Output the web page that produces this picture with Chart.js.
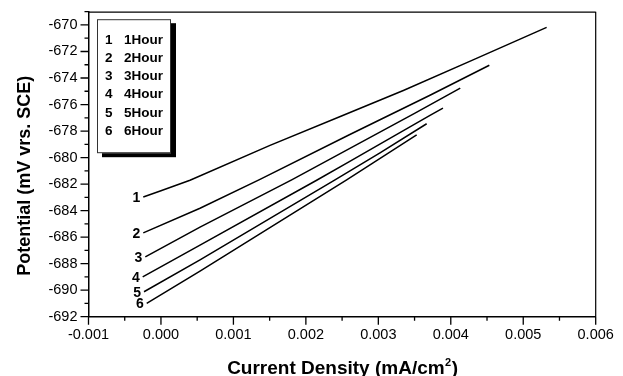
<!DOCTYPE html>
<html>
<head>
<meta charset="utf-8">
<script src="https://cdn.jsdelivr.net/npm/chart.js@4.4.0/dist/chart.umd.min.js"></script>
<style>
html,body{margin:0;padding:0;background:#fff;}
#wrap{width:623px;height:376px;position:relative;}
</style>
</head>
<body>
<div id="wrap"><canvas id="c" width="623" height="376"></canvas></div>
<script>
const FONT = "Arial, 'Liberation Sans', sans-serif";

// Immersion times and the tags written next to each curve
const hourNames = ['1Hour', '2Hour', '3Hour', '4Hour', '5Hour', '6Hour'];
const curveTags = ['1', '2', '3', '4', '5', '6'];

// Current density (mA/cm2) and potential (mV vs SCE) for each immersion time
const current1   = [-0.000244, 0.000000, 0.000401, 0.001505, 0.002500, 0.003345, 0.004300, 0.005323];
const potential1 = [-682.97, -682.50, -681.71, -679.08, -676.85, -674.94, -672.65, -670.18];

const current2   = [-0.000244, 0.000539, 0.001367, 0.002600, 0.003713, 0.004532];
const potential2 = [-685.68, -683.82, -681.64, -678.28, -675.30, -673.04];

const current3   = [-0.000216, 0.000539, 0.001804, 0.003500, 0.004131];
const potential3 = [-687.49, -685.25, -681.68, -676.67, -674.77];

const current4   = [-0.000252, 0.000539, 0.002149, 0.002600, 0.003713, 0.003892];
const potential4 = [-688.99, -686.60, -681.71, -680.30, -676.82, -676.27];

const current5   = [-0.000234, 0.000539, 0.002402, 0.003023, 0.003667];
const potential5 = [-690.12, -687.72, -681.68, -679.64, -677.45];

const current6   = [-0.000197, 0.000539, 0.002563, 0.003529];
const potential6 = [-690.99, -688.56, -681.68, -678.28];

// Axis ranges and tick steps
const xMin = -0.001, xMax = 0.006, xStep = 0.0005;
const yMin = -692, yMax = -669, yStep = 1;

const currents = [current1, current2, current3, current4, current5, current6];
const potentials = [potential1, potential2, potential3, potential4, potential5, potential6];

const datasets = currents.map((xs, i) => ({
  label: hourNames[i],
  data: xs.map((x, k) => ({ x: x, y: potentials[i][k] })),
  showLine: true,
  borderColor: '#000',
  borderWidth: 1.5,
  pointRadius: 0,
  fill: false,
  tension: 0
}));

function xLabel(v) {
  const k = Math.round(v / xStep);
  return k % 2 === 0 ? (k * xStep).toFixed(3) : '';
}
function yLabel(v) {
  const r = Math.round(v);
  return (r % 2 === 0 && r <= -670) ? String(r) : '';
}

// Frame on top/right plus major and minor tick marks
const framePlugin = {
  id: 'frame',
  afterDraw(chart) {
    const { ctx, chartArea: a, scales } = chart;
    ctx.save();
    ctx.strokeStyle = '#000';
    ctx.lineWidth = 1.2;
    ctx.beginPath();
    ctx.moveTo(a.left, a.top + 0.5);
    ctx.lineTo(a.right, a.top + 0.5);
    ctx.moveTo(a.right, a.top);
    ctx.lineTo(a.right, a.bottom);
    ctx.stroke();

    ctx.lineWidth = 1.3;
    ctx.beginPath();
    scales.x.ticks.forEach(t => {
      const px = scales.x.getPixelForValue(t.value);
      const len = xLabel(t.value) !== '' ? 8 : 4;
      ctx.moveTo(px, a.bottom);
      ctx.lineTo(px, a.bottom + len);
    });
    scales.y.ticks.forEach(t => {
      const py = scales.y.getPixelForValue(t.value);
      const len = yLabel(t.value) !== '' ? 8 : 4;
      ctx.moveTo(a.left, py);
      ctx.lineTo(a.left - len, py);
    });
    ctx.stroke();
    ctx.restore();
  }
};

// Curve tags at the start of every line
const tagPlugin = {
  id: 'tags',
  afterDatasetsDraw(chart) {
    const { ctx, scales } = chart;
    ctx.save();
    ctx.fillStyle = '#000';
    ctx.font = 'bold 14px ' + FONT;
    ctx.textAlign = 'right';
    ctx.textBaseline = 'middle';
    chart.data.datasets.forEach((ds, i) => {
      const p = ds.data[0];
      const px = scales.x.getPixelForValue(p.x);
      const py = scales.y.getPixelForValue(p.y);
      ctx.fillText(curveTags[i], px - 3, py + 1);
    });
    ctx.restore();
  }
};

// Boxed legend with drop shadow in the upper-left corner
const legendPlugin = {
  id: 'boxLegend',
  afterDraw(chart) {
    const { ctx, chartArea: a } = chart;
    const bx = a.left + 8.5, by = a.top + 7.5, bw = 74, bh = 134;
    ctx.save();
    ctx.fillStyle = '#000';
    ctx.fillRect(bx + 5, by + 4, bw, bh);
    ctx.fillStyle = '#fff';
    ctx.fillRect(bx, by, bw, bh);
    ctx.strokeStyle = '#333';
    ctx.lineWidth = 1;
    ctx.strokeRect(bx + 0.5, by + 0.5, bw - 1, bh - 1);
    ctx.fillStyle = '#000';
    ctx.font = 'bold 13.5px ' + FONT;
    ctx.textBaseline = 'middle';
    ctx.textAlign = 'left';
    hourNames.forEach((name, i) => {
      const ty = by + 21 + i * 18.15;
      ctx.fillText(curveTags[i], bx + 8, ty);
      ctx.fillText(name, bx + 27, ty);
    });
    ctx.restore();
  }
};

// Axis titles
const titlePlugin = {
  id: 'axisTitles',
  afterDraw(chart) {
    const { ctx, chartArea: a } = chart;
    ctx.save();
    ctx.fillStyle = '#000';
    ctx.font = 'bold 18px ' + FONT;
    ctx.textAlign = 'center';
    ctx.textBaseline = 'middle';
    ctx.translate(a.left - 63, a.top + 164);
    ctx.rotate(-Math.PI / 2);
    ctx.fillText('Potential (mV vrs. SCE)', 0, 0);
    ctx.restore();

    ctx.save();
    ctx.fillStyle = '#000';
    ctx.textBaseline = 'alphabetic';
    ctx.textAlign = 'left';
    const main = 'Current Density (mA/cm', sup = '2', tail = ')';
    const big = 'bold 19px ' + FONT, small = 'bold 11px ' + FONT;
    ctx.font = big;
    const w1 = ctx.measureText(main).width, w3 = ctx.measureText(tail).width;
    ctx.font = small;
    const w2 = ctx.measureText(sup).width;
    const cx = (a.left + a.right) / 2;
    const base = a.bottom + 57;
    let x0 = cx - (w1 + w2 + w3) / 2;
    ctx.font = big;
    ctx.fillText(main, x0, base);
    ctx.font = small;
    ctx.fillText(sup, x0 + w1 + 0.5, base - 8);
    ctx.font = big;
    ctx.fillText(tail, x0 + w1 + w2 + 1, base);
    ctx.restore();
  }
};

new Chart(document.getElementById('c'), {
  type: 'scatter',
  data: { datasets: datasets },
  options: {
    responsive: false,
    animation: false,
    devicePixelRatio: 1,
    layout: { padding: { top: 11, right: 27.3, left: 0, bottom: 0 } },
    plugins: { legend: { display: false }, tooltip: { enabled: false } },
    scales: {
      x: {
        type: 'linear',
        min: xMin, max: xMax,
        afterFit: s => { s.height = 59.3; },
        border: { display: true, color: '#000', width: 1.5 },
        grid: { display: true, drawOnChartArea: false, drawTicks: true, tickLength: 8, tickColor: 'rgba(0,0,0,0)' },
        ticks: { stepSize: xStep, autoSkip: false, maxRotation: 0, padding: 2, color: '#000',
                 font: { family: FONT, size: 14.5 }, callback: v => xLabel(v) }
      },
      y: {
        type: 'linear',
        min: yMin, max: yMax,
        afterFit: s => { s.width = 88.5; },
        border: { display: true, color: '#000', width: 1.5 },
        grid: { display: true, drawOnChartArea: false, drawTicks: true, tickLength: 8, tickColor: 'rgba(0,0,0,0)' },
        ticks: { stepSize: yStep, autoSkip: false, padding: 3, color: '#000',
                 font: { family: FONT, size: 14.5 }, callback: v => yLabel(v) }
      }
    }
  },
  plugins: [framePlugin, tagPlugin, legendPlugin, titlePlugin]
});
</script>
</body>
</html>
